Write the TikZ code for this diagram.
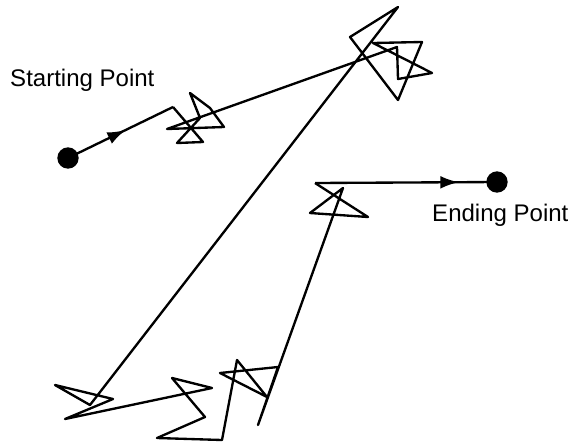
\documentclass[tikz,border=0pt]{standalone}
\usepackage{fontspec}
\setmainfont{Liberation Sans}
\usetikzlibrary{arrows.meta, positioning, decorations.markings}

\begin{document}
\begin{tikzpicture}[
    x=0.03cm, y=-0.03cm,
    dot/.style={circle, fill=black, inner sep=0pt, minimum size=0.64cm},
    walk/.style={line width=2pt, line join=round, black},
    label text/.style={font=\fontsize{20.5}{24}\selectfont, inner sep=0pt, anchor=west},
    arrow at/.style={postaction={decorate}, decoration={markings,
        mark=at position #1 with {\arrow{Latex[length=0.55cm, width=0.38cm]}}}}
]
    \useasboundingbox (0,0) rectangle (573,442);

    % Punkte
    \node[dot] (start) at (68,158) {};
    \node[dot] (finish) at (497,182) {};
    \node[label text] (startlabel) at (10,80) {Starting Point};
    \node[label text] (finishlabel) at (432,215) {Ending Point};

    % Weg
    \draw[walk, arrow at=0.55] (start.center) -- (173,107);
    \draw[walk] (173,107) -- (203,142) -- (177,143) -- (200,118) -- (190,93)
        -- (210,108) -- (224,127) -- (167,129)
        -- (397,47) -- (398,79) -- (432,73) -- (373,43) -- (422,42)
        -- (398,100) -- (350,37) -- (398,7)
        -- (90,405) -- (55,385) -- (113,399) -- (65,419) -- (212,388)
        -- (172,378) -- (205,417) -- (157,438) -- (222,440) -- (237,360)
        -- (267,397) -- (220,373) -- (278,367) -- (258,425)
        -- (343,188) -- (310,213) -- (368,217) -- (315,183);
    \draw[walk, arrow at=0.79] (315,183) -- (finish.center);
\end{tikzpicture}
\end{document}
